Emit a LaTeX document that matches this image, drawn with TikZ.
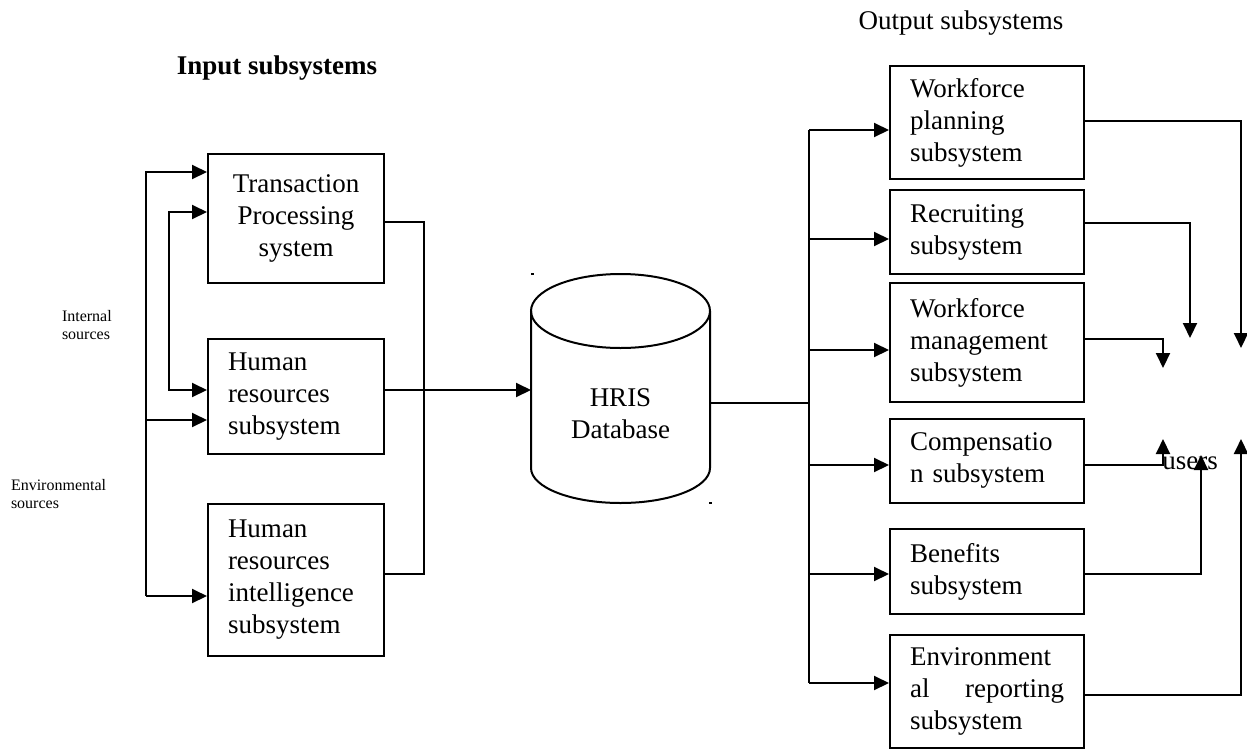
\documentclass[tikz,border=0pt]{standalone}
\usepackage{fontspec}
\setmainfont{Liberation Serif}
\usetikzlibrary{arrows.meta}
\begin{document}
\begin{tikzpicture}[x=1pt,y=-1pt,line width=2pt,
  box/.style={draw,line width=2pt,inner xsep=20pt,inner ysep=0pt,font=\fontsize{27}{32}\selectfont},
  lbox/.style={box,text width=136pt,minimum height=#1},
  rbox/.style={box,text width=154pt,minimum height=#1},
  arr/.style={-{Triangle[length=15pt,width=14pt]}},
  biarr/.style={{Triangle[length=15pt,width=14pt]}-{Triangle[length=15pt,width=14pt]}},
  big/.style={font=\fontsize{27}{32}\selectfont,inner sep=0pt},
  small/.style={font=\fontsize{16}{18}\selectfont,inner sep=0pt,align=left,anchor=west}]
\useasboundingbox (0,0) rectangle (1247,755);

% titles
\node[big,font=\fontsize{27}{32}\selectfont\bfseries] (intitle) at (277,68) {Input subsystems};
\node[big] (outtitle) at (961,23) {Output subsystems};
\node[small] (internal) at (61,325) {Internal\\sources};
\node[small] (environ) at (10,494) {Environmental\\sources};

% input boxes
\node[lbox=129pt,align=center] (tps) at (296,218.5) {Transaction\\Processing\\system};
\node[lbox=115pt,align=left] (hr) at (296,396.5) {Human\\resources\\subsystem};
\node[lbox=152pt,align=left] (intel) at (296,580) {Human\\resources\\intelligence\\subsystem};

% output boxes
\node[rbox=113pt,align=left] (wp) at (987,122.5) {Workforce\\planning\\subsystem};
\node[rbox=84pt,align=left] (rec) at (987,232) {Recruiting\\subsystem};
\node[rbox=119pt,align=left] (man) at (987,342.5) {Workforce\\management\\subsystem};
\node[rbox=84pt,align=left] (comp) at (987,460.5) {Compensatio\\n subsystem};
\node[rbox=85pt,align=left] (ben) at (987,571.5) {Benefits\\subsystem};
\node[rbox=113pt,align=left] (env) at (987,691.5) {Environment\\al\hskip 0pt plus 1fill reporting\\subsystem};

% database cylinder
\coordinate (dbin) at (531,390);
\coordinate (dbout) at (710,403);
\draw (620.5,311) ellipse [x radius=89.5,y radius=37];
\draw (531,311) -- (531,468) arc [start angle=180,end angle=0,x radius=89.5,y radius=35] -- (710,311);
\node[big,align=center] (db) at (620.5,414) {HRIS\\Database};
\fill (531,273) rectangle (534,275);
\fill (709,502) rectangle (712,504);

% left inputs
\coordinate (o1) at (146,172);
\coordinate (o3) at (146,420);
\coordinate (o2) at (146,596);
\draw[arr] (o2) -- (o1) -- (tps.west |- o1);
\draw[arr] (o3) -- (hr.west |- o3);
\draw[arr] (o2) -- (intel.west |- o2);
\coordinate (i1) at (169,212);
\coordinate (i2) at (169,390);
\draw[biarr] (tps.west |- i1) -- (i1) -- (i2) -- (hr.west |- i2);

% collect to database
\coordinate (c1) at (424,222);
\coordinate (c2) at (424,574);
\draw (tps.east |- c1) -- (c1) -- (c2) -- (intel.east |- c2);
\draw[arr] (hr.east |- dbin) -- (dbin);

% bus
\coordinate (b0) at (809,403);
\coordinate (bt) at (809,130);
\coordinate (bb) at (809,683);
\draw (dbout) -- (b0);
\draw (bt) -- (bb);
\draw[arr] (bt) -- (wp.west |- bt);
\coordinate (b2) at (809,239);
\coordinate (b3) at (809,350);
\coordinate (b4) at (809,465);
\coordinate (b5) at (809,574);
\draw[arr] (b2) -- (rec.west |- b2);
\draw[arr] (b3) -- (man.west |- b3);
\draw[arr] (b4) -- (comp.west |- b4);
\draw[arr] (b5) -- (ben.west |- b5);
\draw[arr] (bb) -- (env.west |- bb);

% outputs to users
\coordinate (u1) at (1241,121);
\coordinate (u1e) at (1241,348);
\coordinate (u2) at (1190,223);
\coordinate (u2e) at (1190,338);
\coordinate (u3) at (1163,339);
\coordinate (u3e) at (1163,368);
\coordinate (u4) at (1163,465);
\coordinate (u4e) at (1163,439);
\coordinate (u5) at (1201,574);
\coordinate (u5e) at (1201,455);
\coordinate (u6) at (1241,695);
\coordinate (u6e) at (1241,439);
\draw[arr] (wp.east |- u1) -- (u1) -- (u1e);
\draw[arr] (rec.east |- u2) -- (u2) -- (u2e);
\draw[arr] (man.east |- u3) -- (u3) -- (u3e);
\draw[arr] (comp.east |- u4) -- (u4) -- (u4e);
\draw[arr] (ben.east |- u5) -- (u5) -- (u5e);
\draw[arr] (env.east |- u6) -- (u6) -- (u6e);
\node[big] (users) at (1190,463) {users};
\end{tikzpicture}
\end{document}
